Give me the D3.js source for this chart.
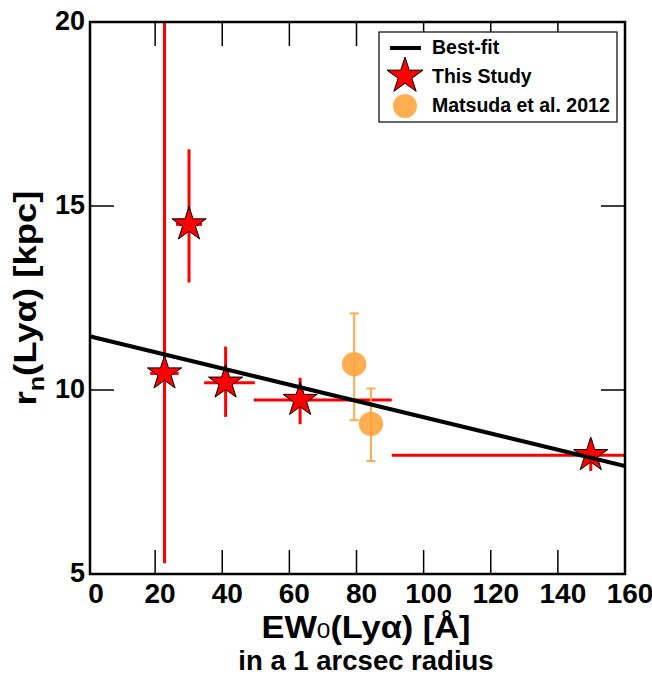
<!DOCTYPE html>
<html><head><meta charset="utf-8">
<script src="https://cdn.jsdelivr.net/npm/d3@7"></script>
<style>
body{margin:0;background:#fff;}
text{font-family:"Liberation Sans",Arial,Helvetica,sans-serif;font-weight:bold;fill:#000;}
</style></head><body>
<svg id="chart" width="652" height="677"></svg>
<script>
// ---- data ----
const xTicks = [0,20,40,60,80,100,120,140,160];
const yTicks = [5,10,15,20];
// This Study (stars)
const starEW   = [22.8, 30.1, 41.0, 63.2, 149.8];
const starR    = [10.45, 14.50, 10.20, 9.73, 8.23];
const starEWlo = [18.5, 26.2, 34.6, 49.4, 90.5];
const starEWhi = [27.0, 34.0, 49.7, 90.5, 200.0];
const starRlo  = [5.29, 12.92, 9.27, 9.07, 7.80];
const starRhi  = [22.0, 16.54, 11.18, 10.33, 8.66];
// Matsuda et al. 2012 (circles)
const matEW  = [79.3, 84.3];
const matR   = [10.70, 9.08];
const matRlo = [9.18, 8.07];
const matRhi = [12.08, 10.04];
// Best-fit line r = a + b*EW
const fitA = 11.47, fitB = -0.0221;
const fitEW = [0, 160];
const legendLabels = ["Best-fit","This Study","Matsuda et al. 2012"];

const svg = d3.select("#chart");
const x = d3.scaleLinear().domain([0,160]).range([88,625]);
const y = d3.scaleLinear().domain([5,20]).range([574,22]);
const pL = 90, pR = 625, pT = 22, pB = 574;

svg.append("defs").append("clipPath").attr("id","clip")
  .append("rect").attr("x",pL).attr("y",pT).attr("width",pR-pL).attr("height",pB-pT);
const plot = svg.append("g").attr("clip-path","url(#clip)");

const red = "#ff0000", orange = "#ffa33a";

// star error bars
starEW.forEach((d,i)=>{
  plot.append("line").attr("x1",x(starEWlo[i])).attr("x2",x(starEWhi[i]))
    .attr("y1",y(starR[i])).attr("y2",y(starR[i])).attr("stroke",red).attr("stroke-width",3);
  plot.append("line").attr("x1",x(d)).attr("x2",x(d))
    .attr("y1",y(starRlo[i])).attr("y2",y(starRhi[i])).attr("stroke",red).attr("stroke-width",3);
});
// Matsuda error bars + circles
matEW.forEach((d,i)=>{
  const g = plot.append("g").attr("stroke",orange).attr("stroke-width",2).attr("opacity",0.9);
  g.append("line").attr("x1",x(d)).attr("x2",x(d)).attr("y1",y(matRlo[i])).attr("y2",y(matRhi[i]));
  [matRlo[i],matRhi[i]].forEach(v=>g.append("line").attr("x1",x(d)-4.5).attr("x2",x(d)+4.5).attr("y1",y(v)).attr("y2",y(v)));
  plot.append("circle").attr("cx",x(d)).attr("cy",y(matR[i])).attr("r",12.2)
    .attr("fill",orange).attr("opacity",0.88);
});
// stars
const starSym = d3.symbol().type(d3.symbolStar).size(18*18/0.8908130915292852);
starEW.forEach((d,i)=>{
  plot.append("path").attr("d",starSym()).attr("transform",`translate(${x(d)},${y(starR[i])})`)
    .attr("fill",red).attr("stroke","#000").attr("stroke-width",1);
});
// best-fit line
plot.append("line").attr("x1",x(fitEW[0])).attr("x2",x(fitEW[1]))
  .attr("y1",y(fitA+fitB*fitEW[0])).attr("y2",y(fitA+fitB*fitEW[1]))
  .attr("stroke","#000").attr("stroke-width",4);

// frame
svg.append("rect").attr("x",pL).attr("y",pT).attr("width",pR-pL).attr("height",pB-pT)
  .attr("fill","none").attr("stroke","#000").attr("stroke-width",2.5);

// ticks
xTicks.filter(t=>t>0 && t<160).forEach(t=>{
  svg.append("line").attr("x1",x(t)).attr("x2",x(t)).attr("y1",pB).attr("y2",pB-24).attr("stroke","#000").attr("stroke-width",1.5);
  svg.append("line").attr("x1",x(t)).attr("x2",x(t)).attr("y1",pT).attr("y2",pT+24).attr("stroke","#000").attr("stroke-width",1.5);
});
yTicks.filter(t=>t>5 && t<20).forEach(t=>{
  svg.append("line").attr("x1",pL).attr("x2",pL+24).attr("y1",y(t)).attr("y2",y(t)).attr("stroke","#000").attr("stroke-width",1.5);
  svg.append("line").attr("x1",pR).attr("x2",pR-24).attr("y1",y(t)).attr("y2",y(t)).attr("stroke","#000").attr("stroke-width",1.5);
});
// tick labels
xTicks.forEach(t=>{
  svg.append("text").attr("x",x(t)+(t===0?8:5)).attr("y",603).attr("text-anchor","middle")
    .attr("font-size",28).text(t);
});
yTicks.forEach(t=>{
  svg.append("text").attr("x",85).attr("y",y(t)+8).attr("text-anchor","end")
    .attr("font-size",27).text(t);
});
// axis titles
const xt = svg.append("text").attr("x",366).attr("y",638).attr("text-anchor","middle").attr("font-size",31)
  .attr("textLength",209).attr("lengthAdjust","spacingAndGlyphs");
xt.append("tspan").text("EW");
xt.append("tspan").attr("font-size",22).attr("font-weight","normal").text("0");
xt.append("tspan").text("(Lyα) [Å]");
svg.append("text").attr("x",366).attr("y",670).attr("text-anchor","middle").attr("font-size",27.5).text("in a 1 arcsec radius");
const yt = svg.append("text").attr("transform","translate(36,298) rotate(-90)").attr("text-anchor","middle").attr("font-size",32)
  .attr("textLength",215).attr("lengthAdjust","spacingAndGlyphs");
yt.append("tspan").text("r");
yt.append("tspan").attr("font-size",22).attr("dy",8).text("n");
yt.append("tspan").attr("dy",-8).text("(Lyα) [kpc]");

// legend
const lg = svg.append("g");
lg.append("rect").attr("x",379).attr("y",32).attr("width",238).attr("height",90)
  .attr("fill","#fff").attr("stroke","#000").attr("stroke-width",1.2);
lg.append("line").attr("x1",390).attr("x2",421).attr("y1",48).attr("y2",48).attr("stroke","#000").attr("stroke-width",4);
lg.append("path").attr("d",d3.symbol().type(d3.symbolStar).size(19*19/0.8908130915292852)())
  .attr("transform","translate(405,76)").attr("fill",red).attr("stroke","#000").attr("stroke-width",1);
lg.append("circle").attr("cx",405).attr("cy",106).attr("r",12).attr("fill",orange).attr("opacity",0.88);
[54,83,112].forEach((yy,i)=>{
  lg.append("text").attr("x",432).attr("y",yy).attr("font-size",19.5).text(legendLabels[i]);
});
</script></body></html>
